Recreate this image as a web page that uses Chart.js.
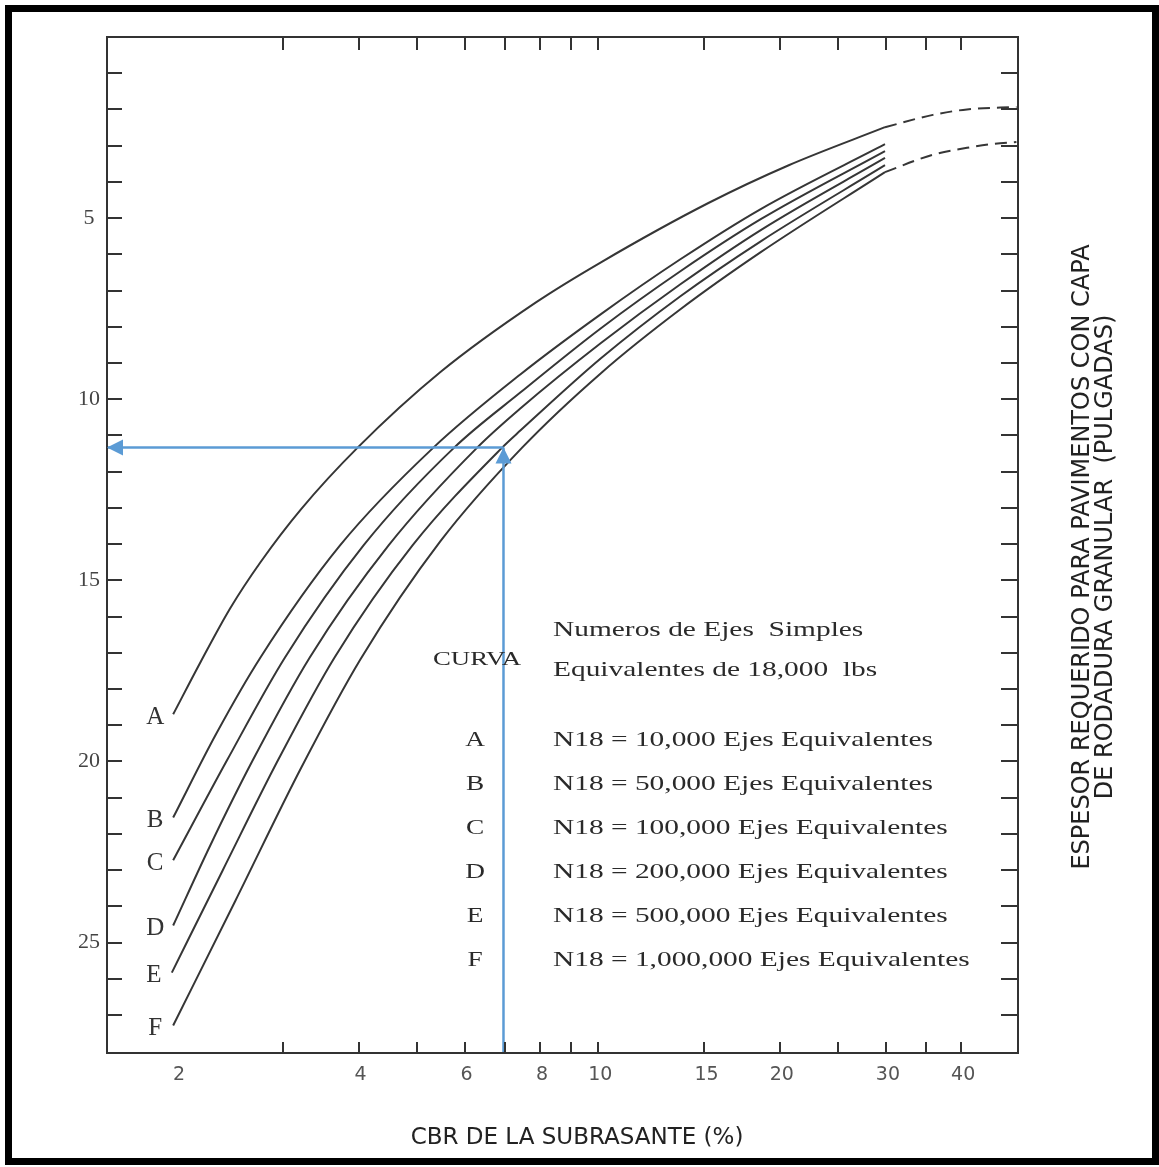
<!DOCTYPE html>
<html>
<head>
<meta charset="utf-8">
<title>Espesor requerido vs CBR</title>
<script src="https://cdn.jsdelivr.net/npm/chart.js@4.4.1/dist/chart.umd.min.js"></script>
<style>
  html, body { margin: 0; padding: 0; background: #fff; }
  #frame {
    position: absolute; left: 5px; top: 5px;
    width: 1154px; height: 1160px;
    box-sizing: border-box; border: 7px solid #000; background: #fff;
  }
  #wrap { position: absolute; left: 0; top: 0; width: 1140px; height: 1146px; }
</style>
</head>
<body>
<div id="frame"><div id="wrap"><canvas id="chart"></canvas></div></div>
<script>
// CBR (%) and required thickness (in)
const cbrA = [1.97, 2.19, 2.45, 2.75, 3.21, 3.99, 5.47, 7.89, 10.1, 15.2, 20.7, 29.9];
const espA = [18.70, 17.24, 15.77, 14.50, 13.04, 11.33, 9.25, 7.32, 6.22, 4.59, 3.54, 2.49];
const cbrB = [1.97, 2.32, 2.75, 3.73, 5.33, 7.43, 10.1, 13.7, 18.6, 29.9];
const espB = [21.55, 19.25, 17.13, 14.03, 11.33, 9.31, 7.65, 6.13, 4.75, 2.96];
const cbrC = [1.97, 2.42, 3.02, 4.08, 5.77, 7.43, 10.1, 13.7, 18.6, 29.9];
const espC = [22.73, 19.97, 17.13, 14.03, 11.33, 9.81, 8.04, 6.46, 5.03, 3.15];
const cbrD = [1.97, 2.27, 2.67, 3.32, 4.49, 6.30, 7.43, 10.1, 13.7, 18.6, 29.9];
const espD = [24.53, 22.32, 19.97, 17.13, 14.03, 11.33, 10.25, 8.45, 6.82, 5.33, 3.34];
const cbrE = [1.96, 2.38, 2.94, 3.65, 4.92, 6.93, 7.43, 10.1, 13.7, 18.6, 29.9];
const espE = [25.83, 23.01, 19.97, 17.13, 14.03, 11.33, 10.86, 8.87, 7.15, 5.64, 3.54];
const cbrF = [1.97, 2.50, 3.21, 4.03, 5.47, 7.48, 10.1, 13.7, 18.6, 29.9];
const espF = [27.29, 23.84, 20.19, 17.18, 13.92, 11.33, 9.28, 7.51, 5.94, 3.73];

// dashed extensions beyond CBR 30
const cbrAext = [29.9, 35.9, 40.9, 49.4];
const espAext = [2.49, 2.15, 2.00, 1.93];
const cbrFext = [29.9, 35.9, 40.9, 44.7, 49.4];
const espFext = [3.73, 3.25, 3.06, 2.96, 2.90];

// worked example (blue arrows)
const cbrDiseno = 6.96;
const espDiseno = 11.33;

// axes
const xMin = 1.53, xMax = 49.7;
const yMin = 0, yMax = 28.05;
const xLabels = [2, 4, 6, 8, 10, 15, 20, 30, 40];
const xMarks = [3, 4, 5, 6, 7, 8, 9, 10, 15, 20, 25, 30, 35, 40];
const yLabels = [5, 10, 15, 20, 25];
const yMarks = [1, 2, 3, 4, 5, 6, 7, 8, 9, 10, 11, 12, 13, 14, 15, 16, 17, 18, 19, 20, 21, 22, 23, 24, 25, 26, 27];

// legend text
const curveNames = ['A', 'B', 'C', 'D', 'E', 'F'];
const curveText = [
  'N18 = 10,000 Ejes Equivalentes',
  'N18 = 50,000 Ejes Equivalentes',
  'N18 = 100,000 Ejes Equivalentes',
  'N18 = 200,000 Ejes Equivalentes',
  'N18 = 500,000 Ejes Equivalentes',
  'N18 = 1,000,000 Ejes Equivalentes'
];
const xTitle = 'CBR DE LA SUBRASANTE (%)';
const yTitle = ['ESPESOR REQUERIDO PARA PAVIMENTOS CON CAPA', 'DE RODADURA GRANULAR  (PULGADAS)'];

const curveColor = '#363636';
const arrowColor = '#5B9BD5';

function toPoints(xs, ys) {
  return xs.map((x, i) => ({ x: x, y: ys[i] }));
}

const curves = [
  [cbrA, espA], [cbrB, espB], [cbrC, espC], [cbrD, espD], [cbrE, espE], [cbrF, espF]
];

const datasets = [];

// blue arrows on top
datasets.push({
  data: toPoints([cbrDiseno, cbrDiseno], [yMax, espDiseno]),
  borderColor: arrowColor, borderWidth: 2.5, arrow: true, order: 0
});
datasets.push({
  data: toPoints([cbrDiseno, xMin], [espDiseno, espDiseno]),
  borderColor: arrowColor, borderWidth: 2.5, arrow: true, order: 0
});

curves.forEach((c, i) => {
  datasets.push({
    data: toPoints(c[0], c[1]),
    borderColor: curveColor, borderWidth: 2,
    cubicInterpolationMode: 'monotone',
    curveLabel: curveNames[i], order: 1
  });
});

datasets.push({
  data: toPoints(cbrAext, espAext),
  borderColor: curveColor, borderWidth: 2, borderDash: [12, 7],
  cubicInterpolationMode: 'monotone', order: 1
});
datasets.push({
  data: toPoints(cbrFext, espFext),
  borderColor: curveColor, borderWidth: 2, borderDash: [12, 7],
  cubicInterpolationMode: 'monotone', order: 1
});

datasets.forEach(ds => {
  ds.showLine = true;
  ds.pointRadius = 0;
  ds.pointHoverRadius = 0;
});

function stretchedText(ctx, text, x, y, sx) {
  ctx.save();
  ctx.translate(x, y);
  ctx.scale(sx, 1);
  ctx.fillText(text, 0, 0);
  ctx.restore();
}

// frame, inward tick marks, arrowheads and all annotation text
const decor = {
  id: 'decor',
  afterDatasetsDraw(chart) {
    const ctx = chart.ctx;
    const ca = chart.chartArea;
    const xs = chart.scales.x, ys = chart.scales.y;
    ctx.save();

    ctx.strokeStyle = '#333';
    ctx.lineWidth = 2;
    ctx.strokeRect(ca.left, ca.top, ca.right - ca.left, ca.bottom - ca.top);

    ctx.beginPath();
    xMarks.forEach(v => {
      const px = Math.round(xs.getPixelForValue(v));
      ctx.moveTo(px, ca.bottom); ctx.lineTo(px, ca.bottom - 11);
      ctx.moveTo(px, ca.top); ctx.lineTo(px, ca.top + 13);
    });
    yMarks.forEach(v => {
      const py = Math.round(ys.getPixelForValue(v));
      ctx.moveTo(ca.left, py); ctx.lineTo(ca.left + 15, py);
      ctx.moveTo(ca.right, py); ctx.lineTo(ca.right - 17, py);
    });
    ctx.stroke();

    // arrowheads
    chart.data.datasets.forEach((ds, i) => {
      if (!ds.arrow) return;
      const pts = chart.getDatasetMeta(i).data;
      const p1 = pts[pts.length - 2], p2 = pts[pts.length - 1];
      const ang = Math.atan2(p2.y - p1.y, p2.x - p1.x);
      ctx.save();
      ctx.translate(p2.x, p2.y);
      ctx.rotate(ang);
      ctx.fillStyle = ds.borderColor;
      ctx.beginPath();
      ctx.moveTo(0, 0);
      ctx.lineTo(-16, -8);
      ctx.lineTo(-16, 8);
      ctx.closePath();
      ctx.fill();
      ctx.restore();
    });

    // curve letters at the start of each curve
    ctx.fillStyle = '#333';
    ctx.font = '25px "Liberation Serif", serif';
    ctx.textAlign = 'center';
    ctx.textBaseline = 'middle';
    chart.data.datasets.forEach((ds, i) => {
      if (!ds.curveLabel) return;
      const p = chart.getDatasetMeta(i).data[0];
      ctx.fillText(ds.curveLabel, p.x - 18, p.y + 3);
    });

    // legend block
    ctx.fillStyle = '#2a2a2a';
    ctx.textAlign = 'left';
    ctx.font = '21px "Liberation Serif", serif';
    const tx = ca.left + 446;
    stretchedText(ctx, 'Numeros de Ejes  Simples', tx, ca.top + 593, 1.4);
    stretchedText(ctx, 'Equivalentes de 18,000  lbs', tx, ca.top + 633, 1.4);
    ctx.font = '19px "Liberation Serif", serif';
    stretchedText(ctx, 'CURVA', ca.left + 326, ca.top + 623, 1.41);
    ctx.font = '21px "Liberation Serif", serif';
    curveNames.forEach((n, i) => {
      const y = ca.top + 703 + i * 44;
      ctx.textAlign = 'center';
      stretchedText(ctx, n, ca.left + 368, y, 1.3);
      ctx.textAlign = 'left';
      stretchedText(ctx, curveText[i], tx, y, 1.4);
    });

    // axis titles
    ctx.fillStyle = '#222';
    ctx.font = '23px "DejaVu Sans", sans-serif';
    ctx.textAlign = 'center';
    ctx.fillText(xTitle, ca.left + 470, ca.bottom + 85);

    ctx.font = '24px "DejaVu Sans", sans-serif';
    ctx.save();
    ctx.translate(ca.right + 65, ca.top + 520);
    ctx.rotate(-Math.PI / 2);
    ctx.fillText(yTitle[0], 0, 0);
    ctx.fillText(yTitle[1], 0, 23);
    ctx.restore();

    ctx.restore();
  }
};

new Chart(document.getElementById('chart'), {
  type: 'scatter',
  data: { datasets: datasets },
  options: {
    responsive: true,
    maintainAspectRatio: false,
    animation: false,
    events: [],
    layout: { padding: { top: 25, right: 134, left: 0, bottom: 0 } },
    plugins: {
      legend: { display: false },
      tooltip: { enabled: false }
    },
    scales: {
      x: {
        type: 'logarithmic',
        min: xMin,
        max: xMax,
        afterBuildTicks: s => { s.ticks = xLabels.map(v => ({ value: v })); },
        afterFit: s => { s.height = 105; },
        grid: { display: false, drawTicks: false },
        border: { display: false },
        ticks: {
          autoSkip: false,
          maxRotation: 0,
          padding: 11,
          labelOffset: 2,
          color: '#555',
          font: { family: 'DejaVu Sans', size: 19 },
          callback: v => String(v)
        }
      },
      y: {
        type: 'linear',
        reverse: true,
        min: yMin,
        max: yMax,
        afterBuildTicks: s => { s.ticks = yLabels.map(v => ({ value: v })); },
        afterFit: s => { s.width = 95; },
        grid: { display: false, drawTicks: false },
        border: { display: false },
        ticks: {
          padding: 7,
          crossAlign: 'center',
          color: '#444',
          font: { family: 'Liberation Serif', size: 22 },
          callback: v => String(v)
        }
      }
    }
  },
  plugins: [decor]
});
</script>
</body>
</html>
